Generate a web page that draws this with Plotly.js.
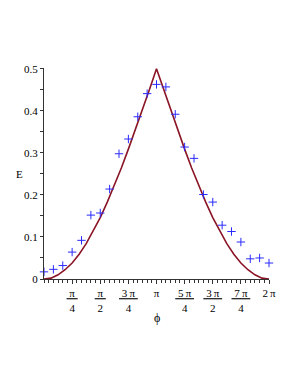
<!DOCTYPE html>
<html>
<head>
<meta charset="utf-8">
<script src="https://cdn.plot.ly/plotly-3.0.1.min.js"></script>
<style>
html,body{margin:0;padding:0;background:#fff;}
#chart{width:298px;height:385px;}
</style>
</head>
<body>
<div id="chart"></div>
<script>
// Curve values E at phi = k*pi/16, k = 0..32
const curveSteps = [0,1,2,3,4,5,6,7,8,9,10,11,12,13,14,15,16,17,18,19,20,21,22,23,24,25,26,27,28,29,30,31,32];
const curveE = [0, 0.002, 0.010, 0.022, 0.038, 0.059, 0.084, 0.114, 0.146, 0.183, 0.222, 0.264, 0.309, 0.355, 0.403, 0.451, 0.5,
                0.451, 0.403, 0.355, 0.309, 0.264, 0.222, 0.183, 0.146, 0.114, 0.084, 0.059, 0.038, 0.022, 0.010, 0.002, 0];

// Marker values E at phi = k*pi/12, k = 0..24
const markerSteps = [0,1,2,3,4,5,6,7,8,9,10,11,12,13,14,15,16,17,18,19,20,21,22,23,24];
const markerE = [0.017, 0.023, 0.032, 0.064, 0.092, 0.152, 0.157, 0.214, 0.298, 0.333, 0.386, 0.441, 0.463,
                 0.457, 0.392, 0.314, 0.287, 0.201, 0.183, 0.128, 0.113, 0.088, 0.048, 0.050, 0.038];

// x tick labels at multiples of pi/4
const xTickSteps = [1,2,3,4,5,6,7,8];
const xTickText = [
  "<u>\u00a0π\u00a0</u><br>4",
  "<u>\u00a0π\u00a0</u><br>2",
  "<u>\u00a03\u2009π\u00a0</u><br>4",
  "π",
  "<u>\u00a05\u2009π\u00a0</u><br>4",
  "<u>\u00a03\u2009π\u00a0</u><br>2",
  "<u>\u00a07\u2009π\u00a0</u><br>4",
  "2\u2009π"
];

const PI = Math.PI;
const font = {family: "Liberation Serif, Times New Roman, serif", size: 11, color: "#000"};

const traces = [
  {
    x: curveSteps.map(k => k * PI / 16),
    y: curveE,
    mode: "lines",
    line: {color: "#8a1526", width: 1.6},
    hoverinfo: "skip",
    showlegend: false
  },
  {
    x: markerSteps.map(k => k * PI / 12),
    y: markerE,
    mode: "markers",
    marker: {symbol: "cross-thin-open", size: 6, line: {color: "#2a2aff", width: 1}, color: "#2a2aff"},
    cliponaxis: false,
    hoverinfo: "skip",
    showlegend: false
  }
];

const layout = {
  width: 298, height: 385,
  margin: {l: 44, r: 29, t: 68, b: 106},
  paper_bgcolor: "#fff", plot_bgcolor: "#fff",
  font: font,
  showlegend: false,
  xaxis: {
    range: [0, 2 * PI],
    tickmode: "array",
    tickvals: xTickSteps.map(k => k * PI / 4),
    ticktext: xTickText,
    ticks: "outside", ticklen: 4, tickwidth: 1, tickcolor: "#333",
    showline: true, linecolor: "#333", linewidth: 1,
    showgrid: false, zeroline: false,
    tickfont: font,
    minor: {tickmode: "linear", tick0: 0, dtick: PI / 24, ticks: "outside", ticklen: 3, tickcolor: "#333", showgrid: false}
  },
  yaxis: {
    range: [0, 0.502],
    tickmode: "linear", tick0: 0, dtick: 0.1,
    ticks: "outside", ticklen: 3, tickwidth: 1, tickcolor: "#333",
    showline: true, linecolor: "#333", linewidth: 1,
    showgrid: false, zeroline: false,
    tickfont: font,
    minor: {tickmode: "linear", tick0: 0, dtick: 0.05, ticks: "outside", ticklen: 3, tickcolor: "#333", showgrid: false}
  },
  annotations: [
    {text: "E", xref: "paper", yref: "paper", x: -0.111, y: 0.5, xanchor: "center", yanchor: "middle", showarrow: false, font: font},
    {text: "ϕ", xref: "paper", yref: "paper", x: 0.5, y: -0.183, xanchor: "center", yanchor: "middle", showarrow: false, font: {family: font.family, size: 12, color: "#000"}}
  ]
};

Plotly.newPlot("chart", traces, layout, {displayModeBar: false, staticPlot: true});
</script>
</body>
</html>
